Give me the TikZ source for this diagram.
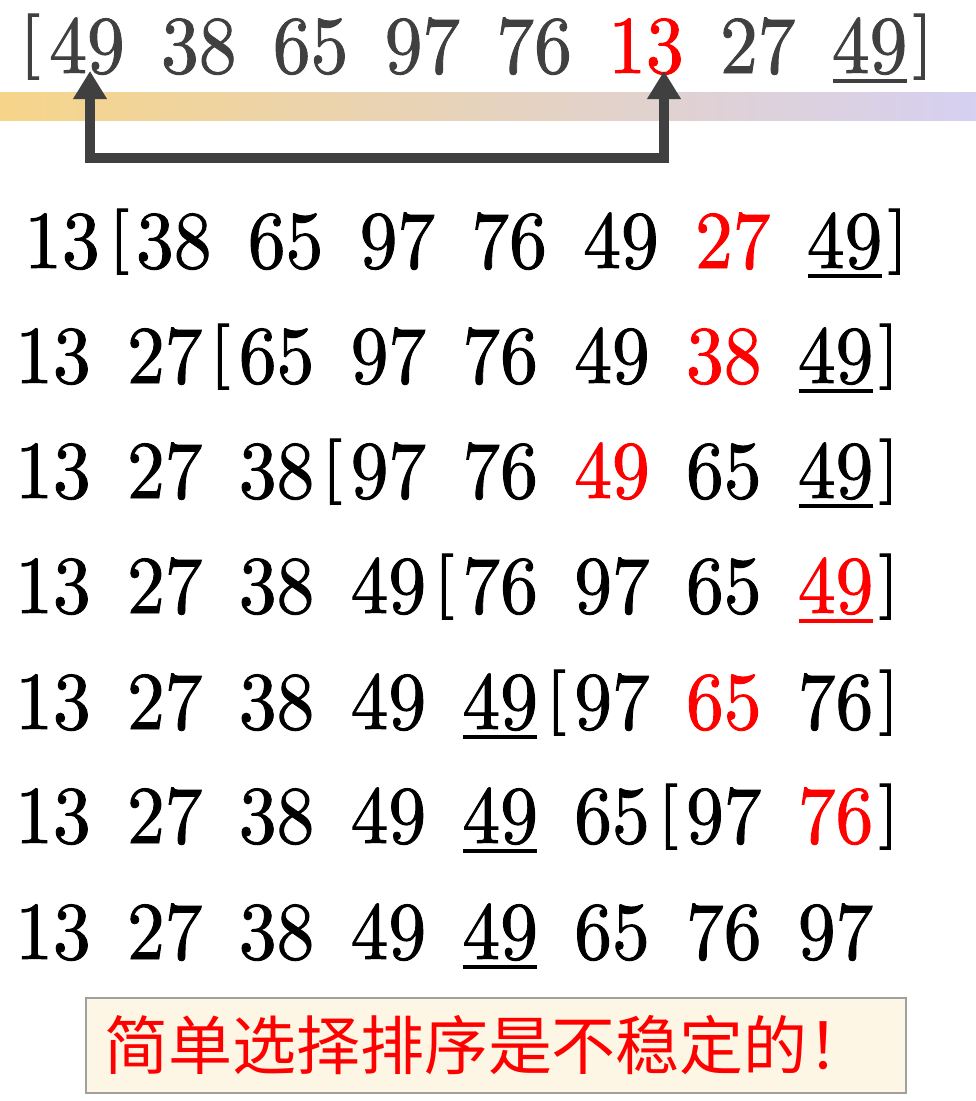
\documentclass[tikz,border=0pt]{standalone}
\usepackage{fontspec}
\usetikzlibrary{arrows.meta}
\newfontfamily\numfont{lmroman10-regular}[Extension=.otf,FakeBold=1.1,FakeStretch=0.92]
\newfontfamily\cjk{Noto Sans CJK SC}
\definecolor{hotred}{RGB}{255,0,0}
\definecolor{dimink}{RGB}{64,64,64}
\definecolor{barorange}{RGB}{246,213,138}
\definecolor{barlilac}{RGB}{214,208,241}
\definecolor{notefill}{RGB}{253,246,228}
\definecolor{noteline}{RGB}{160,160,160}
% bracket glyph, squeezed so that it hangs less below the baseline
\newcommand\sqbrk[1]{\raisebox{10pt}{\scalebox{1}[0.8]{#1}}}

\begin{document}
\begin{tikzpicture}[x=1pt,y=-1pt,
  num/.style={inner sep=0pt,anchor=base,font=\numfont\fontsize{82}{90}\selectfont},
  uline/.style={line width=3.5pt},
  swaparrow/.style={draw=dimink,line width=10pt,line join=miter,
    {Triangle[length=28pt,width=32pt]}-{Triangle[length=28pt,width=32pt]}},
  verdict/.style={draw=noteline,line width=2pt,fill=notefill,text=hotred,
    minimum width=820pt,minimum height=95pt,text width=784pt,inner xsep=18pt,
    align=left,font=\cjk\fontsize{64}{70}\selectfont}]
  \useasboundingbox (0,0) rectangle (976,1101);

  % bar under the first line
  \shade[left color=barorange,right color=barlilac] (0,92) rectangle (976,120);

  % first pass: swap 49 and 13
  \foreach \v/\c [count=\i] in {49/dimink,38/dimink,65/dimink,97/dimink,
      76/dimink,13/hotred,27/dimink,49/dimink}
    \node[num,text=\c] (r1c\i) at ({87+111.8*(\i-1)},73) {\v};
  \node[num,text=dimink] (r1open) at (30,73) {\sqbrk{[}};
  \node[num,text=dimink] (r1close) at (923,73) {\sqbrk{]}};

  \coordinate (bendL) at (90,158);
  \coordinate (bendR) at (664,158);
  \draw[swaparrow] ([xshift=3pt,yshift=2pt]r1c1.base) -- (bendL) -- (bendR)
    -- ([xshift=18pt,yshift=2pt]r1c6.base);

  % the passes
  \foreach \v/\c [count=\i] in {13/black,38/black,65/black,97/black,
      76/black,49/black,27/hotred,49/black}
    \node[num,text=\c] (r2c\i) at ({62+111.8*(\i-1)},268) {\v};
  \node[num] (r2open) at (119,268) {\sqbrk{[}};
  \node[num] (r2close) at (898,268) {\sqbrk{]}};

  \foreach \v/\c [count=\i] in {13/black,27/black,65/black,97/black,
      76/black,49/black,38/hotred,49/black}
    \node[num,text=\c] (r3c\i) at ({53+111.8*(\i-1)},383) {\v};
  \node[num] (r3open) at (220,383) {\sqbrk{[}};
  \node[num] (r3close) at (889,383) {\sqbrk{]}};

  \foreach \v/\c [count=\i] in {13/black,27/black,38/black,97/black,
      76/black,49/hotred,65/black,49/black}
    \node[num,text=\c] (r4c\i) at ({53+111.8*(\i-1)},498) {\v};
  \node[num] (r4open) at (332,498) {\sqbrk{[}};
  \node[num] (r4close) at (889,498) {\sqbrk{]}};

  \foreach \v/\c [count=\i] in {13/black,27/black,38/black,49/black,
      76/black,97/black,65/black,49/hotred}
    \node[num,text=\c] (r5c\i) at ({53+111.8*(\i-1)},613) {\v};
  \node[num] (r5open) at (444,613) {\sqbrk{[}};
  \node[num] (r5close) at (889,613) {\sqbrk{]}};

  \foreach \v/\c [count=\i] in {13/black,27/black,38/black,49/black,
      49/black,97/black,65/hotred,76/black}
    \node[num,text=\c] (r6c\i) at ({53+111.8*(\i-1)},729) {\v};
  \node[num] (r6open) at (556,729) {\sqbrk{[}};
  \node[num] (r6close) at (889,729) {\sqbrk{]}};

  \foreach \v/\c [count=\i] in {13/black,27/black,38/black,49/black,
      49/black,65/black,97/black,76/hotred}
    \node[num,text=\c] (r7c\i) at ({53+111.8*(\i-1)},843) {\v};
  \node[num] (r7open) at (668,843) {\sqbrk{[}};
  \node[num] (r7close) at (889,843) {\sqbrk{]}};

  \foreach \v [count=\i] in {13,27,38,49,49,65,76,97}
    \node[num] (r8c\i) at ({53+111.8*(\i-1)},959) {\v};

  % the second 49 is underlined
  \draw[uline,dimink] ([xshift=-37pt,yshift=-8pt]r1c8.base)
    -- ([xshift=37pt,yshift=-8pt]r1c8.base);
  \draw[uline,hotred] ([xshift=-37pt,yshift=-8pt]r5c8.base)
    -- ([xshift=37pt,yshift=-8pt]r5c8.base);
  \foreach \n in {r2c8,r3c8,r4c8,r6c5,r7c5,r8c5}
    \draw[uline] ([xshift=-37pt,yshift=-8pt]\n.base)
      -- ([xshift=37pt,yshift=-8pt]\n.base);

  \node[verdict] (verdict) at (496,1045.5) {简单选择排序是不稳定的！};
\end{tikzpicture}
\end{document}
